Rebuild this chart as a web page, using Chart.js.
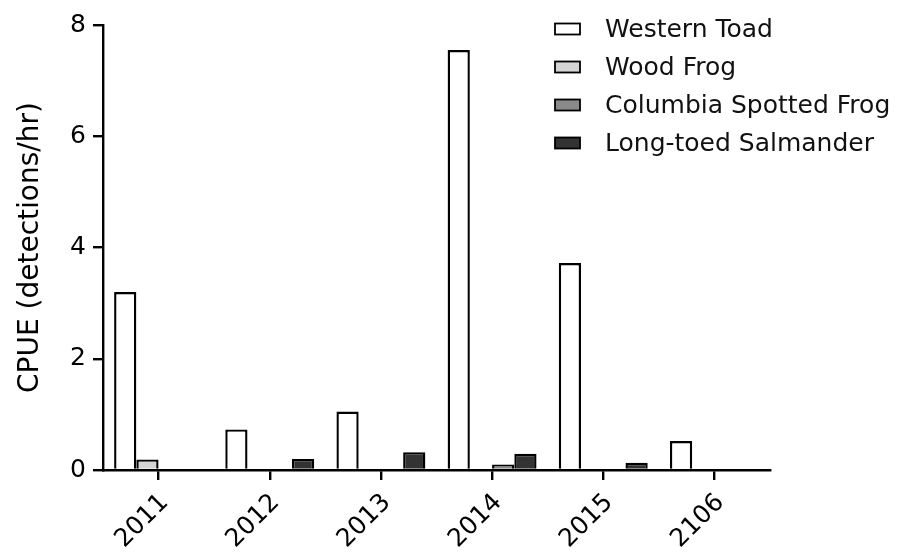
<!DOCTYPE html>
<html>
<head>
<meta charset="utf-8">
<style>
  html, body { margin: 0; padding: 0; background: #ffffff; }
  #chart { display: block; }
</style>
<script src="https://cdn.jsdelivr.net/npm/chart.js@4/dist/chart.umd.min.js"></script>
</head>
<body>
<canvas id="chart" width="903" height="557"></canvas>
<script>
// Survey years (category axis)
const years = ['2011', '2012', '2013', '2014', '2015', '2106'];

// Catch per unit effort, detections per hour
const westernToad = [3.2, 0.73, 1.05, 7.55, 3.72, 0.52];
const woodFrog = [0.19, 0, 0, 0, 0, 0];
const columbiaSpottedFrog = [0, 0, 0, 0.1, 0, 0];
const longToedSalmander = [0, 0.2, 0.32, 0.29, 0.13, 0];

// Value axis ticks
const yTicks = [0, 2, 4, 6, 8];

const FONT = '"DejaVu Sans", "Liberation Sans", Arial, sans-serif';
const INK = '#000000';

// Legend stacked in the upper right corner of the plot
const cornerLegend = {
  id: 'cornerLegend',
  afterDraw(chart) {
    const ctx = chart.ctx;
    const boxX = 555, boxW = 25, boxH = 11;
    const textX = 605;
    const rowY = [29, 67, 105, 143];
    ctx.save();
    chart.data.datasets.forEach((ds, i) => {
      const cy = rowY[i];
      ctx.fillStyle = ds.backgroundColor;
      ctx.fillRect(boxX, cy - boxH / 2, boxW, boxH);
      ctx.lineWidth = 1.8;
      ctx.strokeStyle = '#000000';
      ctx.strokeRect(boxX, cy - boxH / 2, boxW, boxH);
      ctx.fillStyle = '#111111';
      ctx.font = '25px ' + FONT;
      ctx.textAlign = 'left';
      ctx.textBaseline = 'middle';
      ctx.fillText(ds.label, textX, cy + 1);
    });
    ctx.restore();
  }
};

const barStyle = {
  borderColor: '#000000',
  borderWidth: 2.4,
  borderSkipped: 'start',
  categoryPercentage: 0.8,
  barPercentage: 1.0
};

new Chart(document.getElementById('chart'), {
  type: 'bar',
  data: {
    labels: years,
    datasets: [
      Object.assign({ label: 'Western Toad', data: westernToad, backgroundColor: '#ffffff' }, barStyle),
      Object.assign({ label: 'Wood Frog', data: woodFrog, backgroundColor: '#d4d4d4' }, barStyle),
      Object.assign({ label: 'Columbia Spotted Frog', data: columbiaSpottedFrog, backgroundColor: '#8a8a8a' }, barStyle),
      Object.assign({ label: 'Long-toed Salmander', data: longToedSalmander, backgroundColor: '#333333' }, barStyle)
    ]
  },
  options: {
    responsive: false,
    devicePixelRatio: 1,
    animation: false,
    layout: { padding: { top: 25, right: 133, bottom: 0, left: 0 } },
    plugins: {
      legend: { display: false },
      tooltip: { enabled: false }
    },
    scales: {
      x: {
        offset: true,
        grid: {
          offset: false,
          drawOnChartArea: false,
          drawTicks: true,
          tickLength: 10,
          lineWidth: 2.4,
          color: '#000000'
        },
        border: { color: '#000000', width: 2.4 },
        ticks: {
          color: INK,
          font: { family: FONT, size: 25 },
          minRotation: 45,
          maxRotation: 45,
          padding: 8,
          labelOffset: 6
        },
        afterFit(scale) { scale.height = 87; }
      },
      y: {
        min: 0,
        max: 8,
        afterBuildTicks(scale) { scale.ticks = yTicks.map(v => ({ value: v })); },
        grid: {
          drawOnChartArea: false,
          drawTicks: true,
          tickLength: 10,
          lineWidth: 2.4,
          color: '#000000'
        },
        border: { color: '#000000', width: 2.4 },
        ticks: {
          color: INK,
          font: { family: FONT, size: 25 },
          padding: 7
        },
        title: {
          display: true,
          text: 'CPUE (detections/hr)',
          color: INK,
          font: { family: FONT, size: 28 },
          padding: { top: 14, bottom: 0 }
        },
        afterFit(scale) { scale.width = 103; }
      }
    }
  },
  plugins: [cornerLegend]
});
</script>
</body>
</html>
